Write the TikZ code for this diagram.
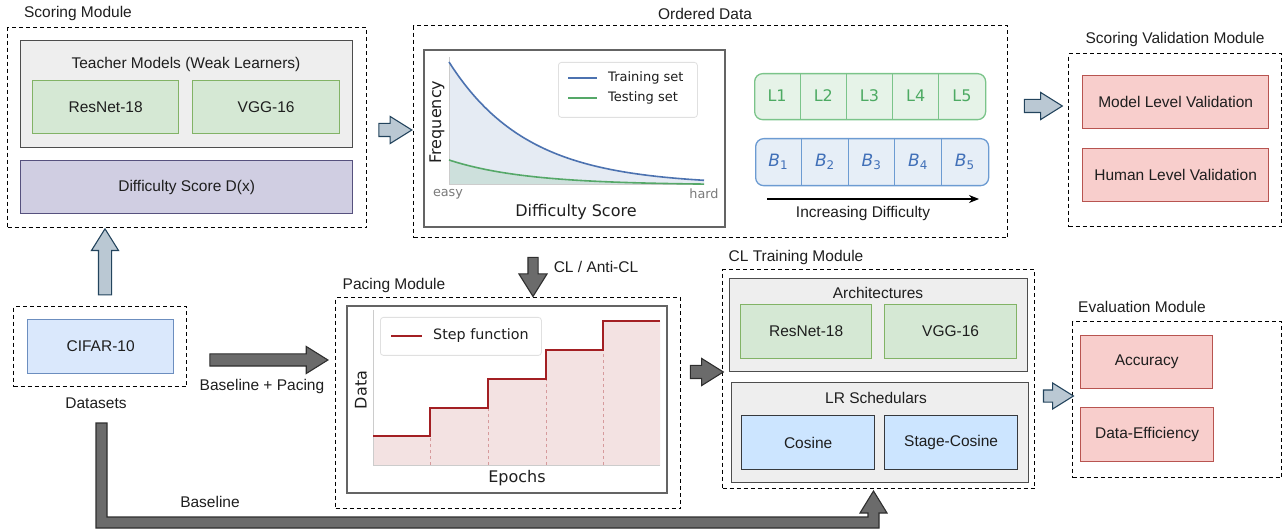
\documentclass[tikz,border=0pt]{standalone}
\usepackage{fontspec}
\setmainfont{Liberation Sans}
\newfontfamily\chartfont{DejaVu Sans}
\usepackage{tikz}
\usetikzlibrary{positioning, arrows.meta, shapes.arrows, calc}
\definecolor{textColor}{RGB}{30, 30, 30}
\definecolor{groupFill}{HTML}{EEEEEE}
\definecolor{groupLine}{HTML}{4D4D4D}
\definecolor{frameLine}{HTML}{646464}
\definecolor{greenFill}{HTML}{D5E8D4}
\definecolor{greenLine}{HTML}{82B366}
\definecolor{purpleFill}{HTML}{D0CEE2}
\definecolor{purpleLine}{HTML}{56517E}
\definecolor{blueFill}{HTML}{DAE8FC}
\definecolor{blueLine}{HTML}{6C8EBF}
\definecolor{cosineFill}{HTML}{CCE5FF}
\definecolor{cosineLine}{HTML}{36393D}
\definecolor{redFill}{HTML}{F8CECC}
\definecolor{redLine}{HTML}{B85450}
\definecolor{lightArrowFill}{HTML}{BAC8D3}
\definecolor{lightArrowLine}{HTML}{23445D}
\definecolor{darkArrowFill}{HTML}{6B6B6B}
\definecolor{darkArrowLine}{HTML}{2E2E2E}
\definecolor{trainBlue}{HTML}{4C72B0}
\definecolor{testGreen}{HTML}{55A868}
\definecolor{stepRed}{HTML}{A31F23}
\definecolor{spineGray}{HTML}{CCCCCC}
\definecolor{tickGray}{HTML}{7A7A7A}
\definecolor{levelLine}{HTML}{7BC48A}
\definecolor{levelFill}{HTML}{E6F3E8}
\definecolor{levelText}{HTML}{4DAA63}
\definecolor{batchLine}{HTML}{6C9BD2}
\definecolor{batchFill}{HTML}{E6EEF7}
\definecolor{batchText}{HTML}{4170B8}
\newcommand{\boxfont}{\fontsize{15.5}{18}\selectfont}
\newcommand{\plotfont}{\chartfont\fontsize{16}{19}\selectfont}
\tikzset{
    module_box/.style={
        draw=black,
        line width=1.2pt,
        dash pattern=on 4pt off 3pt,
        anchor=north west,
        inner sep=0pt
    },
    module_label/.style={
        font=\boxfont,
        text=textColor,
        inner sep=0pt
    },
    group_box/.style={
        draw=groupLine,
        fill=groupFill,
        line width=1.4pt,
        anchor=north west,
        inner sep=0pt
    },
    plain_box/.style={
        line width=1.3pt,
        anchor=north west,
        inner sep=0pt,
        font=\boxfont,
        text=textColor
    },
    model_box/.style={plain_box, draw=greenLine, fill=greenFill},
    score_box/.style={plain_box, draw=purpleLine, fill=purpleFill},
    data_box/.style={plain_box, draw=blueLine, fill=blueFill},
    sched_box/.style={plain_box, draw=cosineLine, fill=cosineFill},
    eval_box/.style={plain_box, draw=redLine, fill=redFill},
    chart_frame/.style={
        draw=frameLine,
        fill=white,
        line width=2.2pt,
        anchor=north west,
        inner sep=0pt
    },
    legend_box/.style={
        draw=black!12,
        fill=white,
        rounded corners=3pt,
        line width=0.8pt,
        anchor=north west,
        inner sep=0pt
    },
    cell_row/.style={
        rounded corners=8pt,
        line width=1.3pt,
        anchor=north west,
        inner sep=0pt
    },
    block_arrow/.style={
        single arrow,
        line width=1.1pt,
        inner sep=6pt,
        minimum width=26pt,
        single arrow head extend=7pt,
        single arrow tip angle=64,
        sloped,
        allow upside down
    },
    light_arrow/.style={block_arrow, draw=lightArrowLine, fill=lightArrowFill},
    dark_arrow/.style={block_arrow, draw=darkArrowLine, fill=darkArrowFill},
    bent_arrow/.style={
        draw=darkArrowLine,
        fill=darkArrowFill,
        line width=1.1pt,
        line join=miter
    }
}

\begin{document}
\begin{tikzpicture}[x=1pt, y=-1pt]
    \useasboundingbox (0,0) rectangle (1283,529);

    % scoring module
    \node[module_label] (scoring_lbl) at (78,13) {Scoring Module};
    \node[module_box, minimum width=359pt, minimum height=200pt] (scoring) at (7,27) {};
    \node[group_box, minimum width=332pt, minimum height=107pt] (teachers) at (20,40) {};
    \node[module_label] (teachers_lbl) at (186,64) {Teacher Models (Weak Learners)};
    \node[model_box, minimum width=146pt, minimum height=53pt] (sc_resnet) at (32,80) {ResNet-18};
    \node[model_box, minimum width=147pt, minimum height=53pt] (sc_vgg) at (192,80) {VGG-16};
    \node[score_box, minimum width=332pt, minimum height=53pt] (dscore) at (20,160) {Difficulty Score D(x)};

    % ordered data
    \node[module_label] (ordered_lbl) at (705,14) {Ordered Data};
    \node[module_box, minimum width=594pt, minimum height=212pt] (ordered) at (413,25) {};
    \node[chart_frame, minimum width=301pt, minimum height=177pt] (freq_chart) at (423,49) {};
    \fill[trainBlue, fill opacity=0.14] (449,185) -- plot[domain=0:255, samples=80] ({449+\x}, {185-123*exp(-0.0128*\x)}) -- (704,185) -- cycle;
    \fill[testGreen, fill opacity=0.16] (449,185) -- plot[domain=0:255, samples=80] ({449+\x}, {185-25*exp(-0.013*\x)}) -- (704,185) -- cycle;
    \draw[spineGray, line width=1pt] (449,57) -- (449,185) -- (704,185);
    \draw[trainBlue, line width=1.6pt] plot[domain=0:255, samples=80] ({449+\x}, {185-123*exp(-0.0128*\x)});
    \draw[testGreen, line width=1.6pt] plot[domain=0:255, samples=80] ({449+\x}, {185-25*exp(-0.013*\x)});
    \node[legend_box, minimum width=139pt, minimum height=55pt] (freq_legend) at (558,62) {};
    \draw[trainBlue, line width=1.6pt] (568,78) -- (597,78);
    \draw[testGreen, line width=1.6pt] (568,98) -- (597,98);
    \node[anchor=west, inner sep=0pt, text=textColor, font=\chartfont\fontsize{13}{15}\selectfont] (train_lbl) at (608,78) {Training set};
    \node[anchor=west, inner sep=0pt, text=textColor, font=\chartfont\fontsize{13}{15}\selectfont] (test_lbl) at (608,98) {Testing set};
    \node[inner sep=0pt, text=tickGray, font=\chartfont\fontsize{12.8}{15}\selectfont] (easy_lbl) at (448,194) {easy};
    \node[inner sep=0pt, text=tickGray, font=\chartfont\fontsize{12.8}{15}\selectfont] (hard_lbl) at (704,194) {hard};
    \node[inner sep=0pt, text=textColor, font=\plotfont] (diff_axis) at (576,212) {Difficulty Score};
    \node[inner sep=0pt, text=textColor, font=\plotfont, rotate=90] (freq_axis) at (437,122) {Frequency};

    % level and batch rows
    \node[cell_row, draw=levelLine, fill=levelFill, minimum width=231pt, minimum height=46pt] (level_row) at (754,73) {};
    \node[cell_row, draw=batchLine, fill=batchFill, minimum width=233pt, minimum height=47pt] (batch_row) at (755,138) {};
    \foreach \i in {1,...,5} {
        \node[text=levelText, font=\plotfont] (lvl\i) at ({754+46.2*(\i-0.5)},96) {L\i};
        \node[text=batchText, font=\plotfont] (bat\i) at ({755+46.6*(\i-0.5)},162) {\fontsize{17}{19}\selectfont\textit{B}\textsubscript{\i}};
    }
    \foreach \i in {1,...,4} {
        \draw[levelLine, line width=1.1pt] ({754+46.2*\i},73) -- ({754+46.2*\i},119);
        \draw[batchLine, line width=1.1pt] ({755+46.6*\i},138) -- ({755+46.6*\i},185);
    }
    \coordinate (incr_from) at (767,199);
    \coordinate (incr_to) at (979,199);
    \draw[-{Stealth[length=10pt, width=8pt]}, line width=1.2pt] (incr_from) -- (incr_to);
    \node[module_label] (incr_lbl) at (863,213) {Increasing Difficulty};

    % scoring validation
    \node[module_label] (valid_lbl) at (1175,39) {Scoring Validation Module};
    \node[module_box, minimum width=213pt, minimum height=173pt] (validation) at (1068,53) {};
    \node[eval_box, minimum width=186pt, minimum height=53pt] (model_val) at (1082,75) {Model Level Validation};
    \node[eval_box, minimum width=186pt, minimum height=53pt] (human_val) at (1082,148) {Human Level Validation};

    % datasets
    \node[module_box, minimum width=173pt, minimum height=80pt] (datasets) at (13,306) {};
    \node[data_box, minimum width=146pt, minimum height=54pt] (cifar) at (27,319) {CIFAR-10};
    \node[module_label] (datasets_lbl) at (96,403) {Datasets};

    % pacing module
    \node[module_label] (pacing_lbl) at (394,285) {Pacing Module};
    \node[module_box, minimum width=345pt, minimum height=211pt] (pacing) at (335,297) {};
    \node[chart_frame, minimum width=320pt, minimum height=187pt] (step_chart) at (346,305) {};
    \fill[stepRed, fill opacity=0.13] (373,465) -- (373,436) -| (430,408) -| (488,379) -| (546,350) -| (603,321) -- (660,321) -- (660,465) -- cycle;
    \foreach \xs/\ys in {430/436, 488/408, 546/379, 603/350}
        \draw[stepRed!45, dashed, line width=0.6pt] (\xs,465) -- (\xs,\ys);
    \draw[spineGray, line width=1pt] (373,310) -- (373,465) -- (660,465);
    \draw[stepRed, line width=1.8pt] (373,436) -| (430,408) -| (488,379) -| (546,350) -| (603,321) -- (660,321);
    \node[legend_box, minimum width=161pt, minimum height=38pt] (step_legend) at (380,317) {};
    \draw[stepRed, line width=1.6pt] (391,336) -- (422,336);
    \node[anchor=west, inner sep=0pt, text=textColor, font=\chartfont\fontsize{14.3}{17}\selectfont] (step_lbl) at (433,336) {Step function};
    \node[inner sep=0pt, text=textColor, font=\plotfont, rotate=90] (data_axis) at (361,390) {Data};
    \node[inner sep=0pt, text=textColor, font=\plotfont] (epoch_axis) at (517,478) {Epochs};

    % cl training module
    \node[module_label] (cl_lbl) at (796,257) {CL Training Module};
    \node[module_box, minimum width=312pt, minimum height=219pt] (cl_module) at (722,269) {};
    \node[group_box, minimum width=298pt, minimum height=93pt] (archs) at (729,278) {};
    \node[module_label] (archs_lbl) at (878,293) {Architectures};
    \node[model_box, minimum width=131pt, minimum height=54pt] (cl_resnet) at (740,304) {ResNet-18};
    \node[model_box, minimum width=132pt, minimum height=54pt] (cl_vgg) at (884,304) {VGG-16};
    \node[group_box, minimum width=297pt, minimum height=100pt] (scheds) at (731,382) {};
    \node[module_label] (scheds_lbl) at (876,398) {LR Schedulars};
    \node[sched_box, minimum width=133pt, minimum height=54pt] (cosine) at (741,415) {Cosine};
    \node[sched_box, minimum width=133pt, minimum height=54pt] (stage_cos) at (884,415) {Stage-Cosine};

    % evaluation module
    \node[module_label] (eval_lbl) at (1142,307) {Evaluation Module};
    \node[module_box, minimum width=209pt, minimum height=156pt] (evaluation) at (1072,321) {};
    \node[eval_box, minimum width=132pt, minimum height=53pt] (accuracy) at (1080,335) {Accuracy};
    \node[eval_box, minimum width=133pt, minimum height=54pt] (data_eff) at (1080,407) {Data-Efficiency};

    % block arrows between modules
    \coordinate (row_a) at (0,130);
    \coordinate (row_b) at (0,106);
    \coordinate (row_c) at (0,360);
    \coordinate (row_d) at (0,372);
    \coordinate (row_e) at (0,396);
    \coordinate (col_a) at (105,0);
    \coordinate (col_b) at (533,0);
    \path (scoring.east |- row_a) -- node[light_arrow, minimum height=33pt] (arr_order) {} (ordered.west |- row_a);
    \path (ordered.east |- row_b) -- node[light_arrow, minimum height=38pt] (arr_valid) {} (validation.west |- row_b);
    \path (datasets.north -| col_a) -- node[light_arrow, minimum height=66pt] (arr_score) {} (scoring.south -| col_a);
    \path (datasets.east |- row_c) -- node[dark_arrow, pos=0.52, minimum height=118pt, inner sep=5.5pt, single arrow head extend=7.5pt] (arr_pace) {} (pacing.west |- row_c);
    \path (ordered.south -| col_b) -- node[dark_arrow, pos=0.59, minimum height=39pt, inner sep=4.5pt, single arrow head extend=9pt] (arr_cl) {} (pacing.north -| col_b);
    \path (pacing.east |- row_d) -- node[dark_arrow, minimum height=33pt] (arr_train) {} (cl_module.west |- row_d);
    \path (cl_module.east |- row_e) -- node[light_arrow, minimum height=30pt, inner sep=5.5pt] (arr_eval) {} (evaluation.west |- row_e);
    \node[module_label] (pace_arr_lbl) at (262,386) {Baseline + Pacing};
    \node[module_label] (cl_arr_lbl) at (596,267) {CL / Anti-CL};

    % baseline connector
    \coordinate (base_start) at (101.5,423);
    \coordinate (base_turn) at (101.5,522.5);
    \coordinate (base_tip) at (873.5,491);
    \draw[bent_arrow]
        ($(base_start)+(-5.5,0)$) -- ($(base_start)+(5.5,0)$)
        -- ($(base_turn)+(5.5,-5.5)$) -- ($(base_turn -| base_tip)+(-5.5,-5.5)$)
        -- ($(base_tip)+(-5.5,22)$) -- ($(base_tip)+(-13.5,22)$) -- (base_tip)
        -- ($(base_tip)+(13.5,22)$) -- ($(base_tip)+(5.5,22)$)
        -- ($(base_turn -| base_tip)+(5.5,5.5)$) -- ($(base_turn)+(-5.5,5.5)$) -- cycle;
    \node[module_label] (base_lbl) at (210,502) {Baseline};
\end{tikzpicture}
\end{document}
